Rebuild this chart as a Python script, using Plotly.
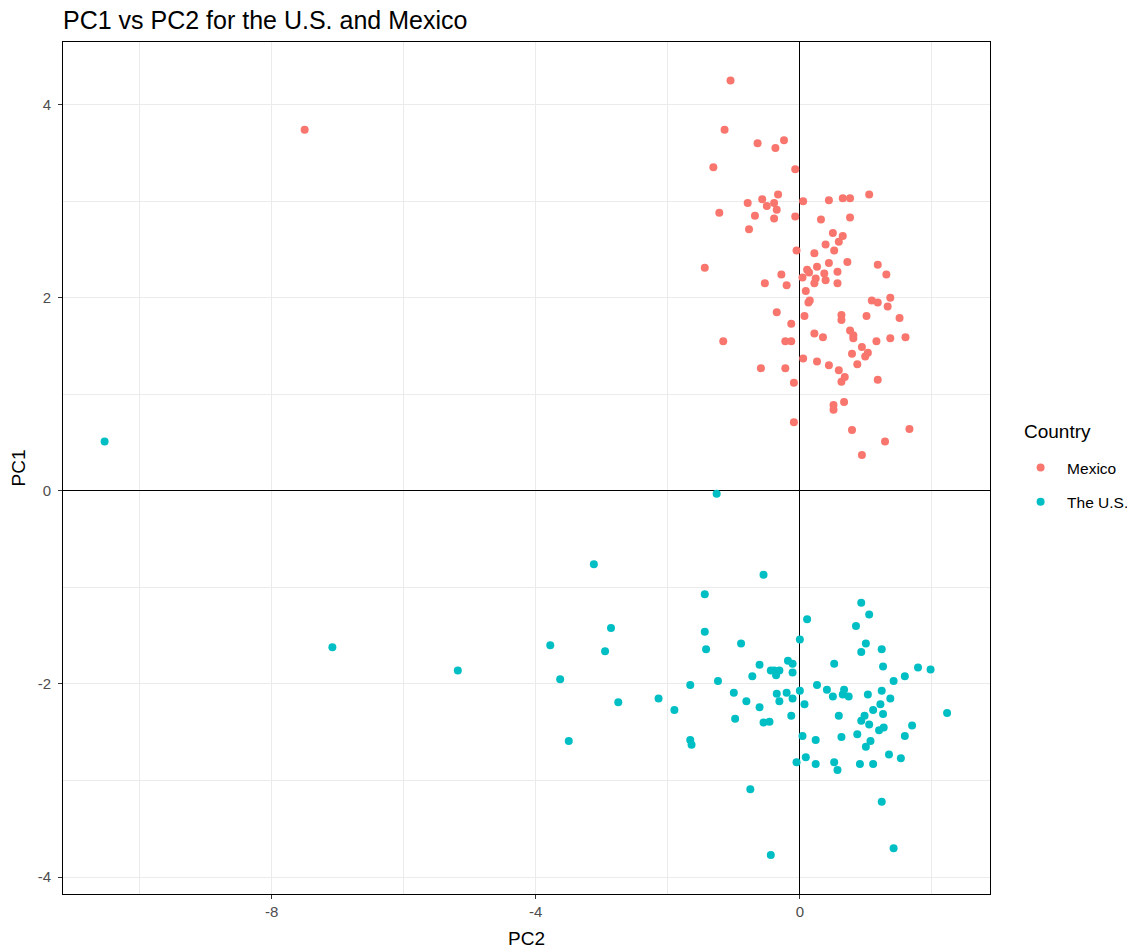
import plotly.graph_objects as go

# ---- data (PC2 on x, PC1 on y) ----
mexico_pc2 = [-1.05, -1.14, -0.64, -0.37, -0.24, -1.31, -0.07, -0.33, -0.79, -0.57,
              -0.50, -0.39, -0.35, -1.22, -0.68, -0.39, -0.77, -0.07, 0.05, 0.44,
              0.65, 0.76, 1.05, 0.32, 0.76, 0.50, 0.65, 0.59, 0.39, 0.52,
              -0.05, 0.22, -1.44, -0.28, -0.53, -0.20, 0.11, 0.14, 0.26, 0.44,
              0.72, 1.18, 1.31, 0.04, 0.24, 0.37, 0.57, 0.39, 0.22, 0.57,
              0.09, 0.13, 0.15, 1.09, 1.18, 1.37, 1.33, -0.35, 0.07, 0.63,
              0.63, 1.01, 1.51, -0.13, 0.76, 0.81, 0.81, -1.16, -0.22, -0.13,
              0.22, 0.35, 1.16, 1.37, 1.60, 0.94, 0.79, 1.03, 0.99, 0.05,
              0.26, 0.87, 0.44, -0.59, -0.22, 0.59, 0.68, 0.63, 1.18, -0.09,
              0.67, 0.51, 0.51, -0.09, 0.79, 1.66, 1.29, 0.94, -7.50]
mexico_pc1 = [4.25, 3.74, 3.60, 3.55, 3.63, 3.35, 3.33, 3.07, 2.98, 3.02,
              2.95, 2.98, 2.91, 2.88, 2.85, 2.82, 2.71, 2.84, 3.00, 3.01,
              3.03, 3.03, 3.07, 2.81, 2.83, 2.67, 2.64, 2.58, 2.55, 2.49,
              2.49, 2.46, 2.31, 2.24, 2.15, 2.13, 2.29, 2.26, 2.32, 2.36,
              2.37, 2.34, 2.24, 2.21, 2.20, 2.25, 2.27, 2.18, 2.15, 2.15,
              2.07, 1.95, 1.97, 1.97, 1.95, 2.00, 1.91, 1.85, 1.81, 1.82,
              1.77, 1.81, 1.79, 1.73, 1.66, 1.61, 1.58, 1.55, 1.55, 1.55,
              1.63, 1.59, 1.55, 1.58, 1.59, 1.49, 1.42, 1.43, 1.39, 1.37,
              1.34, 1.31, 1.30, 1.27, 1.27, 1.25, 1.18, 1.13, 1.15, 1.12,
              0.92, 0.89, 0.84, 0.71, 0.63, 0.64, 0.51, 0.37, 3.74]

us_pc2 = [-10.53, -7.08, -5.18, -1.26, -3.12, -2.86, -3.78, -2.95, -3.63, -2.75,
          -3.50, -2.14, -1.90, -1.66, -1.66, -1.64, -1.44, -1.44, -1.42, -1.24,
          -1.00, -0.98, -0.89, -0.81, -0.75, -0.72, -0.61, -0.61, -0.55, -0.55,
          -0.46, -0.44, -0.39, -0.31, -0.36, -0.44, -0.35, -0.31, -0.20, -0.18,
          -0.11, -0.11, -0.11, -0.13, -0.05, 0.00, 0.00, 0.04, 0.07, 0.09,
          0.11, 0.24, 0.24, 0.26, 0.41, 0.50, 0.52, 0.52, 0.57, 0.59,
          0.63, 0.65, 0.67, 0.74, 0.85, 0.87, 0.91, 0.93, 0.93, 0.93,
          0.98, 1.00, 1.00, 1.03, 1.05, 1.05, 1.07, 1.11, 1.11, 1.22,
          1.24, 1.24, 1.27, 1.20, 1.24, 1.26, 1.26, 1.35, 1.37, 1.42,
          1.42, 1.53, 1.59, 1.59, 1.70, 1.79, 1.98, 2.23]
us_pc1 = [0.51, -1.62, -1.86, -0.03, -0.76, -1.42, -1.60, -1.66, -1.95, -2.19,
          -2.59, -2.15, -2.27, -2.01, -2.58, -2.63, -1.07, -1.46, -1.64, -1.97,
          -2.09, -2.36, -1.58, -2.18, -3.09, -1.92, -1.80, -2.24, -0.87, -2.40,
          -2.39, -1.86, -1.86, -1.86, -1.91, -3.77, -2.10, -2.18, -2.09, -1.76,
          -1.79, -1.88, -2.15, -2.33, -2.81, -1.54, -2.07, -2.54, -2.21, -2.76,
          -1.33, -2.58, -2.83, -2.01, -2.06, -2.13, -1.79, -2.81, -2.89, -2.33,
          -2.55, -2.11, -2.06, -2.13, -1.40, -2.52, -2.83, -1.16, -1.67, -2.38,
          -2.33, -1.58, -2.65, -2.11, -1.28, -2.42, -2.59, -2.27, -2.83, -2.21,
          -1.64, -2.07, -2.45, -2.48, -3.22, -1.82, -2.31, -2.73, -2.15, -1.97,
          -3.70, -2.77, -1.92, -2.54, -2.43, -1.83, -1.85, -2.30]

x_ticks = [-8, -4, 0]
y_ticks = [-4, -2, 0, 2, 4]

FONT = "Liberation Sans, Arial, sans-serif"

fig = go.Figure()
fig.add_trace(go.Scatter(x=mexico_pc2, y=mexico_pc1, mode="markers", name="Mexico",
                         legendgroup="mx",
                         marker=dict(color="#F8766D", size=8, line=dict(width=0))))
fig.add_trace(go.Scatter(x=us_pc2, y=us_pc1, mode="markers", name="The U.S.",
                         legendgroup="us",
                         marker=dict(color="#00BFC4", size=8, line=dict(width=0))))

axis_common = dict(
    showgrid=True, gridcolor="#EBEBEB", gridwidth=1,
    zeroline=True, zerolinecolor="#000000", zerolinewidth=1,
    showline=True, linecolor="#000000", linewidth=1, mirror=True,
    ticks="outside", ticklen=4, tickcolor="#333333", tickwidth=1,
    tickfont=dict(family=FONT, size=15, color="#4D4D4D"),
)

fig.update_xaxes(range=[-11.16, 2.88], tickvals=x_ticks,
                 ticktext=[str(v) for v in x_ticks],
                 minor=dict(dtick=2, tick0=0, showgrid=True, gridcolor="#EBEBEB", gridwidth=0.6, ticks=""),
                 title=dict(text="PC2", font=dict(family=FONT, size=19, color="#000000"), standoff=12),
                 **axis_common)
fig.update_yaxes(range=[-4.175, 4.648], tickvals=y_ticks,
                 ticktext=[str(v) for v in y_ticks],
                 minor=dict(dtick=1, tick0=0, showgrid=True, gridcolor="#EBEBEB", gridwidth=0.6, ticks=""),
                 ticklabelstandoff=4,
                 title=dict(text="PC1", font=dict(family=FONT, size=19, color="#000000"), standoff=8),
                 **axis_common)

fig.add_annotation(text="Country", xref="paper", yref="paper", x=1.0345, y=0.5423,
                   xanchor="left", yanchor="middle", showarrow=False,
                   font=dict(family=FONT, size=19, color="#000000"))

fig.update_layout(
    width=1127, height=943,
    paper_bgcolor="white", plot_bgcolor="white",
    margin=dict(l=55, r=145, t=34, b=57, autoexpand=False),
    title=dict(text="PC1 vs PC2 for the U.S. and Mexico", x=0, xref="paper", xanchor="left",
               y=1, yref="container", yanchor="top", pad=dict(t=3, b=0),
               font=dict(family=FONT, size=25, color="#000000")),
    legend=dict(x=1.026, xanchor="left", y=0.520, yanchor="top",
                font=dict(family=FONT, size=15.5, color="#000000"),
                itemwidth=43,
                tracegroupgap=11, bgcolor="rgba(0,0,0,0)"),
    showlegend=True,
)

fig.write_html("out.html")
